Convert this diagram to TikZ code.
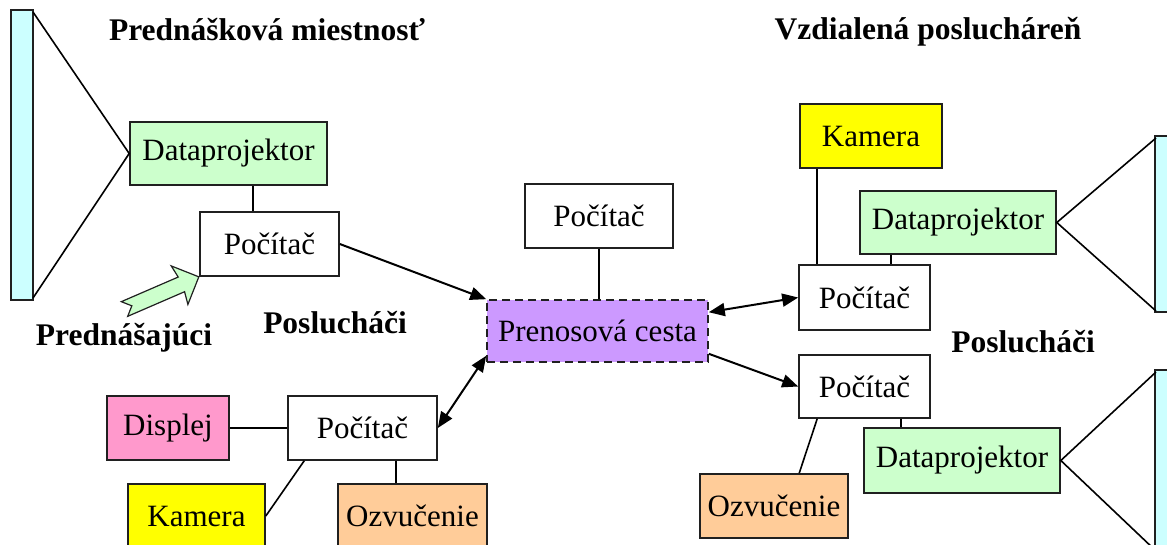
\documentclass[tikz,border=0pt]{standalone}
\usepackage{fontspec}
\setmainfont{Liberation Serif}
\usetikzlibrary{calc,arrows.meta}

\definecolor{cgreen}{HTML}{CCFFCC}
\definecolor{ccyan}{HTML}{CCFFFF}
\definecolor{cyellow}{HTML}{FFFF00}
\definecolor{cpink}{HTML}{FF99CC}
\definecolor{corange}{HTML}{FFCC99}
\definecolor{cpurple}{HTML}{CC99FF}
\definecolor{cedge}{HTML}{202020}

\tikzset{
  box/.style={draw=cedge, line width=1.6pt, inner sep=0pt, anchor=center,
    font=\fontsize{31}{36}\selectfont},
  label/.style={font=\fontsize{31.5}{36}\selectfont\bfseries, inner sep=0pt},
  wire/.style={line width=1.6pt, draw=black},
  tip/.style={Triangle[length=16pt,width=13pt]},
  link/.style={line width=2pt, draw=black, -{Triangle[length=16pt,width=13pt]}},
  duplex/.style={line width=2pt, draw=black, {Triangle[length=16pt,width=13pt]}-{Triangle[length=16pt,width=13pt]}},
  screen/.style={draw=cedge, line width=1.6pt, fill=ccyan},
}

\begin{document}
\begin{tikzpicture}[x=1pt, y=-1pt]
\useasboundingbox (0,0) rectangle (1167,544);

% headings and captions
\node[label] (tL) at (267,30) {Prednášková miestnosť};
\node[label] (tR) at (928,32) {Vzdialená poslucháreň};
\node[label] (prednasajuci) at (124,338) {Prednášajúci};
\node[label] (poslL) at (335,323) {Poslucháči};
\node[label] (poslR) at (1023,342) {Poslucháči};

% lecture room
\node[box, fill=cgreen, minimum width=197pt, minimum height=63pt] (dpL) at (228.5,153.5) {Dataprojektor};
\node[box, fill=white, minimum width=139pt, minimum height=64pt] (pcL) at (269.5,244) {Počítač};
\draw[screen] (11,10) rectangle (33,300);
\coordinate (sLa) at (33,12);
\coordinate (sLb) at (33,298);
\draw[wire] (sLa) -- (dpL.west) -- (sLb);
\draw[wire] ($(dpL.south)+(24.5,0)$) -- ($(pcL.north)+(-16.5,0)$);

% the lecturer's notched arrow
\begin{scope}[shift={(124.5,309)}, rotate=23.4]
  \draw[draw=cedge, line width=1.2pt, fill=cgreen]
    (0,-8) -- (62,-8) -- (60,-21) -- (81,0) -- (60,21) -- (62,8) -- (0,8) -- (8,0) -- cycle;
\end{scope}

% transmission path
\node[box, fill=cpurple, dash pattern=on 8pt off 5pt, minimum width=221pt, minimum height=62pt] (prenos) at (597.5,331) {Prenosová cesta};
\node[box, fill=white, minimum width=148pt, minimum height=64pt] (pcT) at (599,216) {Počítač};
\draw[wire] (pcT.south) -- (pcT.south |- prenos.north);

% listeners in the lecture room
\node[box, fill=white, minimum width=149pt, minimum height=64pt] (pcBL) at (362.5,428) {Počítač};
\node[box, fill=cpink, minimum width=122pt, minimum height=64pt] (displej) at (168,428) {Displej};
\node[box, fill=cyellow, minimum width=137pt, minimum height=64pt] (kamBL) at (196.5,516) {Kamera};
\node[box, fill=corange, minimum width=149pt, minimum height=64pt] (ozBL) at (412.5,516) {Ozvučenie};
\draw[wire] (displej.east) -- (pcBL.west);
\draw[wire] ($(pcBL.south west)+(17,0)$) -- (kamBL.east);
\draw[wire] ($(pcBL.south)+(33.5,0)$) -- ($(ozBL.north)+(-16.5,0)$);

% remote hall
\node[box, fill=cyellow, minimum width=142pt, minimum height=64pt] (kamR) at (871,136) {Kamera};
\node[box, fill=cgreen, minimum width=196pt, minimum height=63pt] (dpR1) at (958,222.5) {Dataprojektor};
\node[box, fill=white, minimum width=131pt, minimum height=65pt] (pcR1) at (864.5,297.5) {Počítač};
\node[box, fill=white, minimum width=131pt, minimum height=63pt] (pcR2) at (864.5,386.5) {Počítač};
\node[box, fill=cgreen, minimum width=196pt, minimum height=65pt] (dpR2) at (962,460.5) {Dataprojektor};
\node[box, fill=corange, minimum width=148pt, minimum height=64pt] (ozR) at (774,506) {Ozvučenie};

\draw[screen] (1155,136) rectangle (1180,312);
\draw[screen] (1155,370) rectangle (1180,600);
\coordinate (sR1a) at (1156,138);
\coordinate (sR1b) at (1156,311);
\coordinate (sR2a) at (1156,372);
\coordinate (sR2b) at (1156,551);
\draw[wire] (sR1a) -- (dpR1.east) -- (sR1b);
\draw[wire] (sR2a) -- (dpR2.east) -- (sR2b);

\draw[wire] ($(kamR.south west)+(18,0)$) -- ($(pcR1.north west)+(19,0)$);
\draw[wire] ($(dpR1.south west)+(32,0)$) -- ($(pcR1.north west)+(93,0)$);
\draw[wire] ($(pcR2.south west)+(103,0)$) -- ($(dpR2.north west)+(38,0)$);
\draw[wire] ($(pcR2.south west)+(19,0)$) -- ($(ozR.north west)+(100,0)$);

% data links
\draw[link] (pcL.east) -- (prenos.north west);
\draw[duplex] (pcBL.east) -- ($(prenos.south west)+(0,-7)$);
\draw[duplex] ($(prenos.north east)+(0,13)$) -- (pcR1.west);
\draw[link] ($(prenos.south east)+(0,-9)$) -- (pcR2.west);
\end{tikzpicture}
\end{document}
